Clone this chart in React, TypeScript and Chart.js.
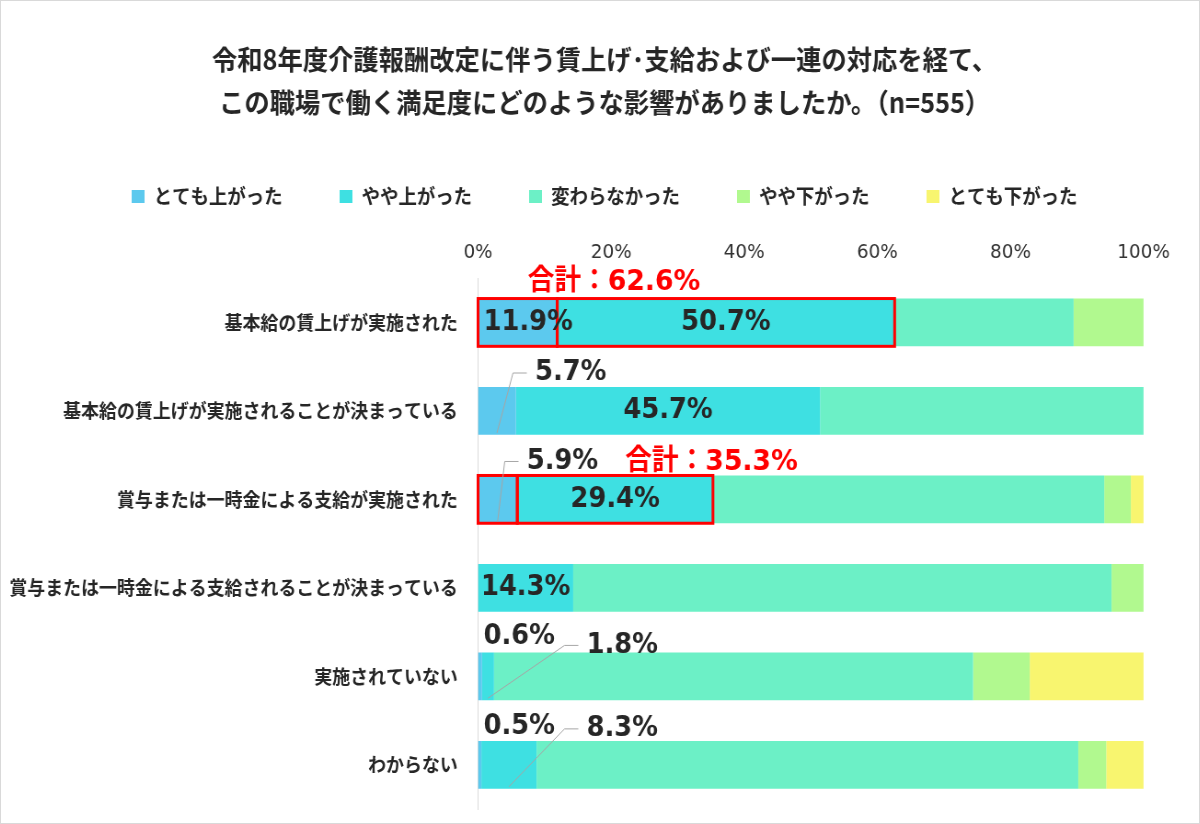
import { useEffect, useRef } from "react";
import { Chart, registerables } from "chart.js";
import type { Plugin } from "chart.js";

Chart.register(...registerables);

const titleLines = [
  "令和8年度介護報酬改定に伴う賃上げ･支給および一連の対応を経て、",
  "この職場で働く満足度にどのような影響がありましたか。（n=555）"
];

const categories = [
  "基本給の賃上げが実施された",
  "基本給の賃上げが実施されることが決まっている",
  "賞与または一時金による支給が実施された",
  "賞与または一時金による支給されることが決まっている",
  "実施されていない",
  "わからない"
];

const seriesNames = ["とても上がった", "やや上がった", "変わらなかった", "やや下がった", "とても下がった"];
const seriesColors = ["#5cc9ee", "#3ee0e2", "#6cf0c6", "#b1f98f", "#f8f56f"];

const veryUp = [11.9, 5.7, 5.9, 0, 0.6, 0.5];
const slightlyUp = [50.7, 45.7, 29.4, 14.3, 1.8, 8.3];
const noChange = [26.9, 48.6, 58.8, 80.9, 72.0, 81.4];
const slightlyDown = [10.5, 0, 4.0, 4.8, 8.5, 4.2];
const veryDown = [0, 0, 1.9, 0, 17.1, 5.6];

const xTicks = [0, 20, 40, 60, 80, 100];
// the axis runs past 100% on the right so the title and legend sit centred like the original
const X_MAX = 109.7;

// the reference is a little narrower than its fonts, so the canvas is squeezed sideways
const SQUEEZE = 0.92;
const CANVAS_W = 1312;
const CANVAS_H = 822;
const LABEL_AXIS_W = 518.5;
const JP = "'Noto Sans CJK JP', sans-serif";
const NUM = "'DejaVu Sans', 'Noto Sans CJK JP', sans-serif";
const TEXT = "#262626";

type Spot = { row: number; ds: number; kind: "inside" | "start" | "float" | "callout"; dx?: number; dy?: number };

// where each percentage label sits (dx from the 0% line, dy from the bar top)
const labelSpots: Spot[] = [
  { row: 0, ds: 0, kind: "start", dx: 6 },
  { row: 0, ds: 1, kind: "inside" },
  { row: 1, ds: 0, kind: "callout", dx: 62, dy: -14 },
  { row: 1, ds: 1, kind: "inside" },
  { row: 2, ds: 0, kind: "callout", dx: 53, dy: -14 },
  { row: 2, ds: 1, kind: "inside" },
  { row: 3, ds: 1, kind: "inside" },
  { row: 4, ds: 0, kind: "float", dx: 6, dy: -16 },
  { row: 4, ds: 1, kind: "callout", dx: 118, dy: -7 },
  { row: 5, ds: 0, kind: "float", dx: 6, dy: -14 },
  { row: 5, ds: 1, kind: "callout", dx: 118, dy: -12 }
];

// rows with the red "合計" box around the two "上がった" segments
const totalSpots = [
  { row: 0, dx: 54, dy: -16 },
  { row: 2, dx: 160, dy: -13 }
];

type BarProps = { x: number; y: number; base: number; height: number };

const barLabels: Plugin<"bar"> = {
  id: "barLabels",
  afterDatasetsDraw(chart) {
    const { ctx } = chart;
    const zero = chart.scales.x.getPixelForValue(0);
    const bar = (ds: number, row: number) =>
      chart.getDatasetMeta(ds).data[row].getProps(["x", "y", "base", "height"], true) as unknown as BarProps;

    ctx.save();

    ctx.strokeStyle = "#ff0000";
    ctx.lineWidth = 3;
    totalSpots.forEach(({ row }) => {
      [0, 1].forEach((ds) => {
        const b = bar(ds, row);
        ctx.strokeRect(b.base, b.y - b.height / 2, b.x - b.base, b.height);
      });
    });

    ctx.textBaseline = "middle";
    labelSpots.forEach(({ row, ds, kind, dx = 0, dy = 0 }) => {
      const b = bar(ds, row);
      const value = chart.data.datasets[ds].data[row] as number;
      const text = `${value.toFixed(1)}%`;
      const top = b.y - b.height / 2;
      ctx.font = `bold 28px ${NUM}`;
      ctx.fillStyle = TEXT;
      if (kind === "inside") {
        ctx.textAlign = "center";
        ctx.fillText(text, (b.base + b.x) / 2, b.y);
        return;
      }
      ctx.textAlign = "left";
      if (kind === "start") {
        ctx.fillText(text, zero + dx, b.y);
        return;
      }
      const ly = top + dy;
      if (kind === "callout") {
        ctx.strokeStyle = "#a6a6a6";
        ctx.lineWidth = 1;
        ctx.beginPath();
        ctx.moveTo((b.base + b.x) / 2, top + b.height - 2);
        ctx.lineTo(zero + dx - 24, ly);
        ctx.lineTo(zero + dx - 9, ly);
        ctx.stroke();
      }
      ctx.fillText(text, zero + dx, ly);
    });

    ctx.font = `bold 29px ${NUM}`;
    ctx.fillStyle = "#ff0000";
    ctx.textAlign = "left";
    totalSpots.forEach(({ row, dx, dy }) => {
      const b = bar(0, row);
      const sum = veryUp[row] + slightlyUp[row];
      ctx.fillText(`合計：${sum.toFixed(1)}%`, zero + dx, b.y - b.height / 2 + dy);
    });

    ctx.restore();
  }
};

export default function App() {
  const canvasRef = useRef<HTMLCanvasElement | null>(null);

  useEffect(() => {
    if (!canvasRef.current) {
      return undefined;
    }

    const values = [veryUp, slightlyUp, noChange, slightlyDown, veryDown];

    const chart = new Chart(canvasRef.current, {
      type: "bar",
      data: {
        labels: categories,
        datasets: values.map((data, i) => ({
          label: seriesNames[i],
          data,
          backgroundColor: seriesColors[i],
          borderWidth: 0,
          barPercentage: 0.54,
          categoryPercentage: 1
        }))
      },
      options: {
        indexAxis: "y",
        responsive: false,
        animation: false,
        layout: { padding: { top: 0, left: 0, right: 0, bottom: 14 } },
        plugins: {
          title: {
            display: true,
            text: titleLines,
            color: TEXT,
            font: { family: JP, size: 27.5, weight: "bold", lineHeight: 1.5636 },
            padding: { top: 37.5, bottom: 0 }
          },
          legend: {
            position: "top",
            labels: {
              color: TEXT,
              font: { family: JP, size: 20, weight: "bold" },
              boxWidth: 14,
              boxHeight: 13,
              padding: 62
            }
          },
          tooltip: { enabled: false }
        },
        scales: {
          x: {
            position: "top",
            stacked: true,
            min: 0,
            max: X_MAX,
            grid: { display: false, drawTicks: false },
            border: { display: false },
            afterBuildTicks: (scale) => {
              scale.ticks = xTicks.map((value) => ({ value }));
            },
            afterFit: (scale) => {
              scale.height = 61.7;
            },
            ticks: {
              padding: 13,
              color: "#333333",
              font: { family: NUM, size: 20 },
              callback: (value) => `${value}%`
            }
          },
          y: {
            stacked: true,
            grid: { display: false, drawTicks: false },
            border: { color: "#d9d9d9", width: 1 },
            afterFit: (scale) => {
              scale.width = LABEL_AXIS_W;
              // the category labels stay inside their bands, no extra room above or below
              scale.paddingTop = 0;
              scale.paddingBottom = 0;
            },
            ticks: {
              padding: 22,
              color: TEXT,
              font: { family: JP, size: 19.5, weight: "bold" }
            }
          }
        }
      },
      plugins: [barLabels]
    });

    return () => chart.destroy();
  }, []);

  return (
    <div
      style={{
        position: "fixed",
        left: 0,
        top: 0,
        width: 1200,
        height: 824,
        overflow: "hidden",
        background: "#ffffff",
        border: "1px solid #d9d9d9",
        boxSizing: "border-box"
      }}
    >
      <div style={{ width: CANVAS_W, height: CANVAS_H, transform: `scaleX(${SQUEEZE})`, transformOrigin: "0 0" }}>
        <canvas ref={canvasRef} width={CANVAS_W} height={CANVAS_H} aria-label="賃上げ・支給と職場の満足度" />
      </div>
    </div>
  );
}
